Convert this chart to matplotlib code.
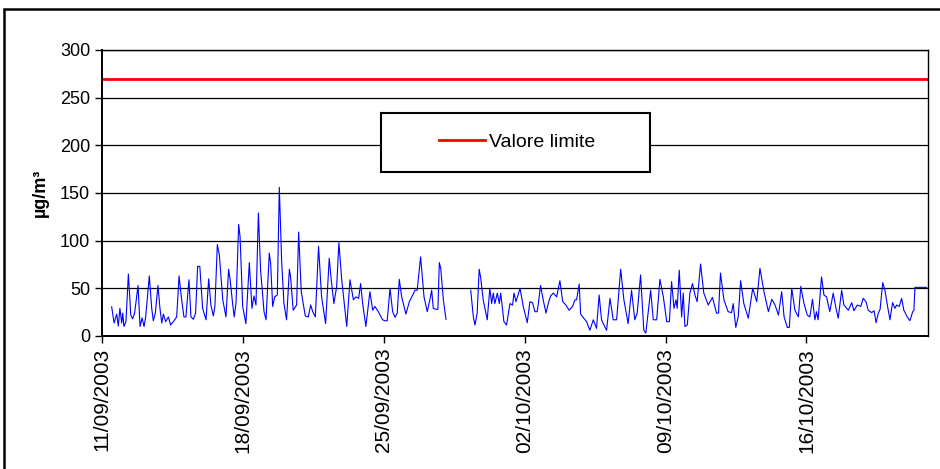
import matplotlib
matplotlib.use("Agg")
import matplotlib.pyplot as plt
import numpy as np
import pandas as pd
from matplotlib.patches import Rectangle

plt.rcParams['font.family'] = ['Liberation Sans', 'DejaVu Sans']

START = "2003-09-11"
# days from 11/09/2003 00:00, and hourly concentration (ug/m3); NaN = missing data
days = [0.48, 0.60, 0.73, 0.81, 0.89, 0.98, 1.03, 1.09, 1.19, 1.31, 1.43, 1.52, 1.62, 1.79, 1.89, 1.99,
        2.09, 2.17, 2.35, 2.47, 2.55, 2.65, 2.78, 2.88, 2.97, 3.05, 3.16, 3.30, 3.41, 3.58, 3.71, 3.83,
        3.93, 4.07, 4.17, 4.32, 4.42, 4.54, 4.65, 4.75, 4.86, 5.00, 5.17, 5.30, 5.41, 5.53, 5.61, 5.73,
        5.83, 6.00, 6.16, 6.29, 6.36, 6.49, 6.57, 6.66, 6.79, 6.86, 6.99, 7.15, 7.32, 7.45, 7.55, 7.65,
        7.77, 7.88, 8.05, 8.15, 8.31, 8.38, 8.48, 8.58, 8.71, 8.81, 8.93, 9.04, 9.17, 9.31, 9.37, 9.50,
        9.67, 9.77, 9.90, 10.10, 10.25, 10.37, 10.47, 10.60, 10.76, 10.91, 11.11, 11.29, 11.39, 11.52,
        11.66, 11.77, 11.91, 12.04, 12.16, 12.32, 12.49, 12.62, 12.75, 12.85, 12.95, 13.11, 13.31, 13.45,
        13.56, 13.73, 13.94, 14.06, 14.17, 14.31, 14.44, 14.56, 14.67, 14.77, 14.89, 15.10, 15.27, 15.38,
        15.55, 15.66, 15.83, 16.00, 16.16, 16.29, 16.38, 16.46, 16.59, 16.69, 16.76, 16.83, 16.96, 17.09,
        17.70,
        18.32, 18.45, 18.53, 18.64, 18.74, 18.81, 18.94, 19.14, 19.27, 19.36, 19.44, 19.52, 19.64, 19.74,
        19.81, 19.97, 20.10, 20.27, 20.40, 20.47, 20.57, 20.67, 20.77, 20.93, 21.13, 21.26, 21.39, 21.51,
        21.62, 21.67, 21.79, 21.92, 22.06, 22.17, 22.29, 22.42, 22.59, 22.75, 22.89, 23.05, 23.21, 23.38,
        23.50, 23.58, 23.71, 23.78, 23.94, 24.08, 24.24, 24.41, 24.57, 24.70, 24.82, 24.94, 25.07, 25.24,
        25.40, 25.57, 25.77, 25.93, 26.14, 26.31, 26.47, 26.59, 26.76, 26.92, 27.02, 27.26, 27.39, 27.56,
        27.72, 27.89, 28.06, 28.19, 28.30, 28.42, 28.52, 28.58, 28.68, 28.80, 28.88, 28.96, 29.08, 29.21,
        29.34, 29.46, 29.57, 29.74, 29.90, 30.12, 30.33, 30.53, 30.63, 30.73, 30.90, 31.11, 31.28, 31.36,
        31.49, 31.61, 31.73, 31.89, 32.11, 32.33, 32.53, 32.69, 32.89, 33.11, 33.28, 33.44, 33.61, 33.77,
        33.89, 34.05, 34.15, 34.27, 34.43, 34.60, 34.72, 34.88, 35.04, 35.17, 35.30, 35.42, 35.50, 35.58,
        35.75, 35.87, 36.00, 36.16, 36.33, 36.47, 36.58, 36.75, 36.86, 37.08, 37.25, 37.36, 37.53, 37.70,
        37.82, 37.96, 38.07, 38.24, 38.36, 38.46, 38.57, 38.66, 38.79, 38.90, 39.02, 39.15, 39.28, 39.40,
        39.48, 39.61, 39.73, 39.84, 40.01, 40.14, 40.28, 40.34, 40.39, 40.97]
conc = [30.7, 13.6, 23, 10.5, 29, 13.6, 24, 10, 15, 65, 22, 18, 24, 53, 10, 19,
        10, 20, 63, 29, 16, 24, 53, 29, 13.6, 23, 15, 20, 11.5, 16, 20, 63,
        43, 20, 20, 59, 20, 17.5, 24, 73, 73, 29, 17, 60, 32.5, 21, 31, 96,
        85, 38, 20, 70, 60, 34, 20, 35, 117, 104, 31, 13, 77, 29, 42, 32.5,
        129, 69, 25.5, 17, 87, 76, 31, 41, 43, 156, 76, 34, 17, 70, 62, 27,
        32.5, 109, 46.5, 21, 20, 32.5, 25.5, 20, 94, 41, 13, 81.5, 59, 34,
        52, 98, 59, 34, 10, 59, 38, 41, 39.5, 55, 34, 10, 46.5, 27,
        31, 25.5, 17, 16, 16, 50, 25.5, 19.6, 24, 59.5, 41, 23, 36, 40.5,
        48, 48, 83, 41, 25.5, 38, 48, 29, 28, 28, 77, 71, 38, 17.5,
        np.nan,
        48, 20, 11.5, 24, 70, 62, 38, 17, 50, 34, 45, 34, 45, 34,
        45, 15, 11.5, 34, 32.5, 45, 36, 43, 50, 31, 14, 36, 35, 25.5,
        25.5, 32.5, 53, 38, 24, 34, 42, 45, 41, 58, 36, 32.5, 27, 31,
        38, 38, 54.5, 23, 18.6, 15, 6, 17, 8, 43, 17, 11.5, 6, 39.5,
        17, 17, 70, 38, 13, 48, 17, 24, 64, 6, 3, 48, 17, 17,
        59.5, 41, 15, 15, 57, 29, 38, 29, 69, 20, 45, 10, 11.5, 45,
        55, 43, 36, 75.5, 45, 32.5, 40.5, 24, 24, 66, 38, 25.5, 24.5, 34,
        9, 20, 58, 34, 18.6, 50, 36, 71, 46.5, 25.5, 38.5, 32.5, 22, 46.5,
        20, 9, 9, 50, 27, 20, 52, 34, 22, 20, 38.5, 17, 25.5, 17,
        62, 43, 41, 25.5, 45, 29, 18.6, 48, 32.5, 27, 35, 26.5, 32.5, 31,
        39.5, 36, 27, 24.5, 26.5, 14, 24, 28, 56, 48, 32.5, 17, 35, 29,
        32.5, 31, 39.5, 27, 20, 16, 25.5, 27, 51, 51]
limit_value = 270
tick_labels = ["11/09/2003", "18/09/2003", "25/09/2003", "02/10/2003", "09/10/2003", "16/10/2003"]

start = pd.Timestamp(START)
times = start + pd.to_timedelta(days, unit="D")
tick_dates = pd.to_datetime(tick_labels, format="%d/%m/%Y")
x_end = start + pd.Timedelta(days=41.04)

fig = plt.figure(figsize=(9.4, 4.69), dpi=100)
ax = fig.add_axes([102/940, 1-336/469, 826/940, 286/469])

ax.plot(times, conc, color="#0000ff", lw=0.8)
ax.plot([start, x_end], [limit_value, limit_value], color="#ff0000", lw=2, label="Valore limite")

ax.set_xlim(start, x_end)
ax.set_ylim(0, 300)
ax.set_yticks(np.arange(0, 301, 50))
ax.set_xticks(tick_dates)
ax.set_xticklabels(tick_labels, rotation=90)
ax.grid(axis="y", color="black", lw=0.9)
ax.set_axisbelow(True)
for s in ax.spines.values():
    s.set_color("black")
    s.set_linewidth(1.0)
ax.spines["left"].set_linewidth(1.4)
ax.spines["bottom"].set_linewidth(1.4)
ax.tick_params(axis="both", direction="out", length=5, width=1, colors="black", labelsize=13)
ax.tick_params(axis="x", labelsize=15)
ax.set_ylabel("µg/m³", fontsize=13, fontweight="bold", labelpad=8)

# legend: bordered box, contents centered
ax.add_patch(Rectangle((381/940, 1-172/469), 269/940, 59/469, transform=fig.transFigure,
                       facecolor="white", edgecolor="black", lw=1.5, zorder=5, clip_on=False))
leg = ax.legend(loc="center", bbox_to_anchor=(517/940, 1-142/469), bbox_transform=fig.transFigure,
                frameon=False, fontsize=14, handlelength=2.4, handletextpad=0.2)
leg.set_zorder(6)

# outer chart border
fig.patches.append(Rectangle((4/940, -0.02), 1.0, 1-9/469+0.02, transform=fig.transFigure,
                             facecolor="none", edgecolor="black", lw=1.8, clip_on=False))

fig.savefig("out.png", dpi=100)
